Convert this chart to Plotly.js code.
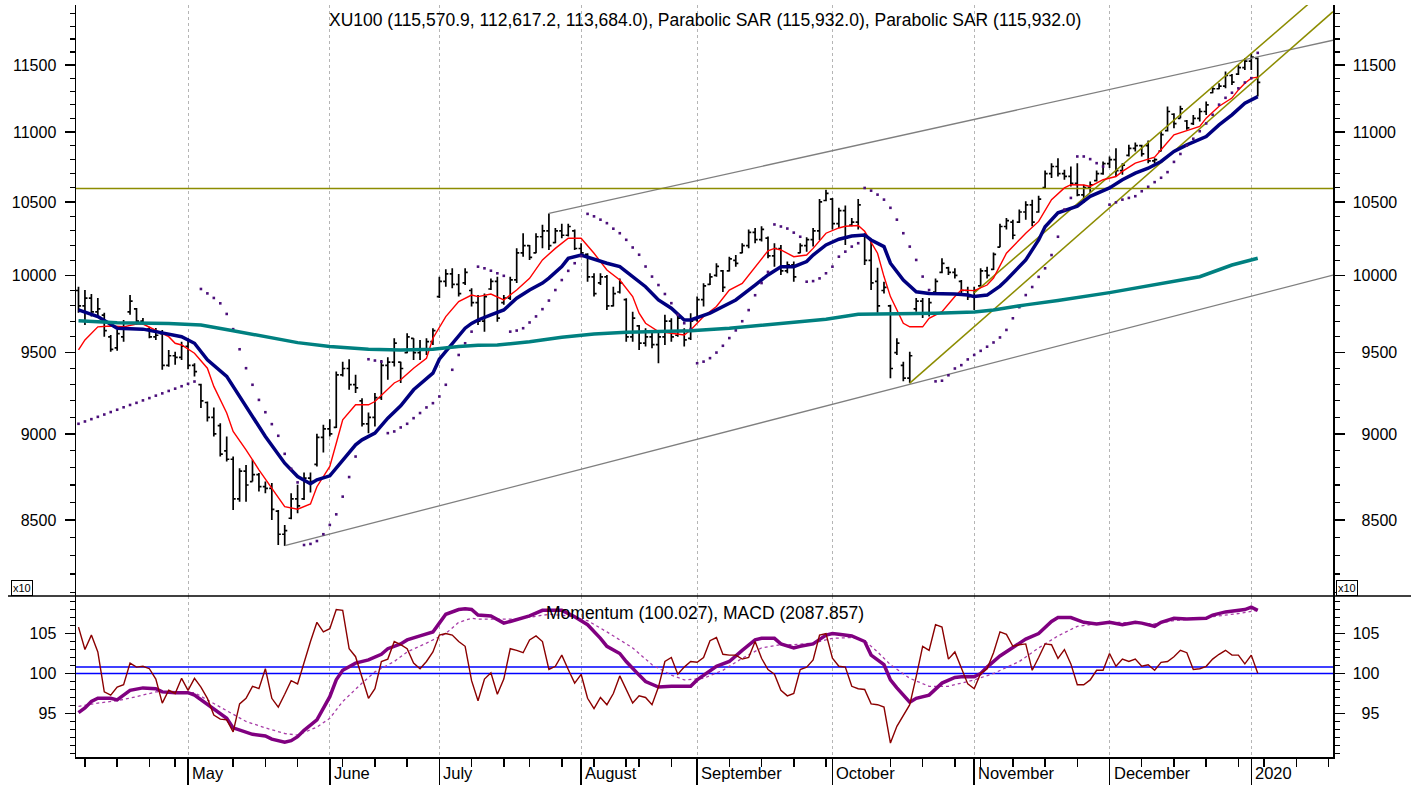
<!DOCTYPE html>
<html><head><meta charset="utf-8">
<script src="https://cdn.plot.ly/plotly-3.0.1.min.js"></script>
<style>html,body{margin:0;padding:0;background:#fff}#chart{width:1411px;height:787px}</style>
</head><body><div id="chart"></div>
<script>
// ---- DATA (trading-day index 0 = first visible bar, early April 2019) ----
const high=[9925,9903,9877,9851,9754,9612,9644,9708,9870,9786,9721,9665,9657,9644,9517,9506,9569,9591,9433,9305,
9196,9160,9065,8985,8866,8798,8817,8847,8769,8720,8711,8557,8472,8653,8701,8772,8772,9001,9055,9089,
9381,9443,9458,9361,9216,9130,9248,9454,9471,9591,9443,9623,9591,9580,9591,9655,9991,10040,10047,10009,
10047,9914,9870,9881,9980,9991,9870,9991,10181,10284,10204,10284,10342,10419,10320,10349,10349,10309,10215,10148,
10014,10014,10003,9925,9980,9849,9762,9676,9655,9644,9644,9741,9719,9741,9655,9752,9860,9947,10014,10081,
10036,10125,10136,10215,10309,10320,10332,10261,10215,10204,10092,10092,10215,10257,10320,10521,10586,10528,10459,10475,
10389,10521,10284,10227,10050,9958,9806,9591,9443,9506,9851,9851,9851,9980,10114,10058,10047,9969,9925,9925,
10047,10058,10153,10349,10389,10377,10447,10504,10516,10544,10722,10774,10810,10727,10750,10774,10621,10644,10722,10786,
10822,10882,10774,10906,10923,10906,10937,10810,11003,11187,11138,11192,11088,11125,11174,11224,11336,11362,11450,11432,
11500,11551,11590,11557];
const low=[9754,9676,9730,9721,9601,9506,9511,9569,9741,9676,9676,9591,9580,9392,9411,9423,9454,9396,9350,9156,
9075,8985,8866,8837,8557,8604,8604,8720,8662,8653,8500,8360,8355,8504,8538,8614,8657,8808,8890,8985,
9035,9350,9268,9248,9045,9005,9045,9206,9330,9413,9310,9496,9454,9454,9485,9548,9851,9925,9914,9860,
9936,9795,9676,9633,9903,9697,9806,9838,9949,10125,10103,10148,10181,10170,10215,10250,10261,10170,10125,9958,
9860,9936,9773,9795,9881,9569,9569,9517,9538,9527,9433,9548,9569,9601,9538,9580,9697,9795,9936,9991,
9890,10025,10058,10148,10181,10215,10227,10114,10058,10003,10014,9958,10148,10159,10193,10238,10504,10309,10320,10204,
10332,10309,10069,9903,9754,9881,9340,9485,9320,9309,9762,9721,9730,9884,10014,10003,9980,9884,9838,9773,
9925,9980,10036,10188,10309,10243,10354,10377,10332,10424,10598,10668,10679,10656,10609,10539,10493,10563,10644,10691,
10739,10679,10691,10822,10858,10822,10774,10774,10858,11003,11027,11100,11015,11051,11076,11125,11286,11316,11323,11349,
11424,11462,11462,11262];
const open=[9900,9800,9850,9760,9740,9600,9530,9600,9760,9780,9700,9650,9600,9620,9420,9480,9470,9540,9420,9300,
9190,9100,9050,8900,8850,8620,8780,8720,8760,8690,8680,8550,8420,8510,8620,8620,8740,8820,8980,9030,
9040,9360,9400,9300,9200,9060,9100,9220,9420,9440,9440,9500,9590,9500,9520,9570,9860,9960,10010,9940,
9950,9900,9820,9700,9910,9960,9820,9850,9970,10150,10200,10150,10260,10300,10220,10300,10270,10300,10180,10140,
9990,9950,9990,9800,9890,9840,9600,9670,9560,9600,9550,9600,9700,9610,9640,9590,9710,9840,9940,10000,
10030,10030,10100,10150,10200,10290,10240,10250,10130,10180,10030,10070,10150,10200,10240,10300,10510,10520,10350,10440,
10340,10360,10270,10100,9960,9900,9800,9500,9420,9340,9780,9830,9750,9890,10020,10050,10020,9960,9900,9860,
9930,10030,10040,10190,10330,10360,10360,10430,10480,10430,10600,10700,10750,10700,10680,10630,10550,10600,10650,10700,
10770,10800,10720,10830,10880,10900,10900,10790,10860,11010,11130,11100,11080,11060,11100,11150,11290,11320,11340,11420,
11430,11480,11530,11550];
const close=[9800,9850,9760,9780,9640,9520,9620,9690,9830,9700,9690,9600,9610,9420,9480,9470,9540,9420,9380,9200,
9100,9000,8880,8850,8620,8780,8700,8760,8690,8680,8560,8420,8440,8620,8580,8740,8720,8980,9030,9000,
9360,9400,9300,9280,9060,9100,9220,9420,9440,9560,9400,9600,9500,9520,9570,9640,9960,10010,9940,9880,
10020,9820,9700,9860,9960,9720,9850,9970,10150,10200,10120,10260,10300,10200,10300,10270,10330,10180,10150,9990,
9880,9990,9800,9880,9950,9600,9720,9560,9600,9550,9600,9700,9600,9720,9580,9700,9840,9930,9990,10060,
9920,10110,10080,10200,10290,10240,10310,10130,10180,10030,10070,9990,10200,10240,10300,10500,10560,10350,10440,10250,
10360,10480,10100,9950,9800,9920,9400,9560,9340,9480,9830,9750,9820,9960,10080,10020,10000,9900,9860,9900,
10030,10000,10140,10330,10370,10270,10430,10480,10360,10520,10700,10750,10700,10680,10630,10550,10600,10620,10700,10770,
10800,10720,10760,10880,10900,10840,10790,10800,10980,11150,11060,11170,11030,11100,11150,11200,11320,11340,11420,11370,
11480,11530,11560,11368];
const sar=[9061,9075,9089,9103,9117,9132,9146,9161,9175,9188,9203,9217,9232,9246,9261,9275,9290,9305,9319,9910,
9881,9851,9816,9747,9649,9521,9402,9299,9206,9131,9059,8989,8882,8794,8715,8360,8366,8382,8420,8472,
8532,8633,8746,8866,null,9458,9450,9443,9005,9015,9039,9061,9095,9126,9160,9186,9227,9299,9392,9485,
9559,9633,10058,10047,10031,10014,9997,9633,9640,9655,9692,9731,9778,9834,9903,9969,10030,10081,10129,10417,
10400,10377,10353,10315,10284,10239,10187,10138,10059,9992,9936,9877,9817,9741,9687,9650,9433,9443,9465,9500,
9543,9592,9641,9700,9772,9869,9949,10023,10344,10330,10316,10288,10260,9958,9962,9980,10014,10058,10125,10159,
10193,10216,10598,10579,10551,10516,10459,10377,10284,10193,10103,9992,9903,9320,9324,9358,9400,9421,9457,9485,
9511,9537,9564,9596,9644,9719,9791,9870,9923,9990,10047,10136,10260,10447,10528,10822,10822,10803,10774,10750,
10481,10497,10516,10528,10540,10575,10606,10639,10670,10710,10783,10840,10901,10950,11005,11062,11126,11201,11252,11290,
11323,11367,11400,11593];
const redIdx=[0,1,3,5,7,9,10,12,14,15,16,18,20,21,23,24,26,28,30,32,34,36,37,39,40,41,43,45,46,48,49,50,52,54,55,57,59,61,62,64,66,68,70,72,74,76,78,80,82,84,86,87,88,90,92,94,95,97,99,101,103,105,107,108,109,111,113,114,116,118,119,121,122,124,125,126,128,129,131,132,134,136,137,139,141,142,144,147,149,151,153,154,156,157,159,161,162,164,166,167,168,170,172,174,175,177,179,180,181,182,183];
const redVal=[9517,9580,9664,9669,9664,9682,9682,9644,9601,9559,9548,9496,9402,9289,9126,9015,8906,8788,8682,8576,8561,8591,8690,8808,8945,9085,9176,9176,9196,9268,9310,9330,9402,9464,9591,9730,9827,9870,9860,9877,9838,9903,9980,10103,10181,10250,10250,10148,10036,9969,9860,9752,9687,9634,9623,9612,9644,9730,9795,9903,9947,10058,10165,10181,10170,10125,10136,10181,10284,10320,10332,10337,10297,10148,9992,9860,9687,9664,9664,9719,9762,9860,9903,9899,9936,9982,10148,10284,10365,10516,10598,10621,10619,10609,10656,10679,10715,10774,10803,10817,10870,10979,11010,11040,11101,11189,11250,11311,11362,11400,11408];
const navyIdx=[0,2,3,6,9,10,12,15,16,18,20,23,25,27,29,32,34,36,37,39,41,43,44,46,48,50,52,55,56,58,60,61,62,64,66,68,70,72,73,75,76,78,80,82,84,86,88,90,92,94,95,98,100,102,105,107,109,111,113,114,116,118,120,122,123,125,126,128,130,132,136,138,139,141,143,144,147,149,150,152,155,157,160,162,164,166,168,170,172,175,177,179,181,183];
const navyVal=[9773,9747,9730,9655,9649,9649,9633,9606,9601,9559,9454,9351,9227,9105,8985,8827,8749,8707,8730,8753,8847,8935,8965,9005,9095,9170,9268,9371,9458,9559,9655,9686,9708,9741,9773,9849,9903,9949,9982,10058,10114,10136,10107,10081,10058,9992,9925,9838,9784,9708,9708,9752,9795,9838,9936,10003,10058,10058,10092,10136,10204,10243,10265,10272,10238,10193,10081,9969,9892,9881,9877,9870,9860,9870,9929,9969,10103,10238,10328,10425,10471,10539,10598,10656,10703,10738,10786,10858,10906,10966,11051,11125,11212,11261];
const tealIdx=[0,6,14,19,24,29,34,39,45,50,55,59,62,65,70,75,80,85,90,95,101,106,111,116,121,126,133,139,142,147,152,160,166,171,174,179,183];
const tealVal=[9703,9690,9686,9676,9639,9601,9563,9538,9521,9517,9521,9538,9546,9548,9569,9597,9618,9629,9633,9638,9655,9676,9693,9713,9745,9747,9752,9760,9773,9806,9834,9886,9930,9969,9991,10069,10114];
// trend lines: [startIdx, startPrice, endIdx, endPrice]
const grayLines=[[32,8356,194.68,10002],[73,10421,194.68,11691]];
const oliveLines=[[-0.388,10595,194.68,10595],[129,9309,194.68,11915],[139,9884,194.68,12146]];
const momentum=[105.8,103.0,104.8,102.7,97.7,97.3,98.3,98.6,101.3,100.8,100.9,100.6,99.3,96.3,97.9,97.5,99.4,97.9,99.4,98.3,
96.9,94.8,94.3,94.2,92.7,96.2,96.9,98.4,98.1,100.6,96.9,95.8,97.4,99.1,98.7,101.5,104.0,106.4,105.2,105.6,
108.0,107.9,103.1,102.1,99.5,96.9,98.1,101.5,101.8,104.0,103.6,103.1,101.3,100.6,101.5,102.7,104.8,105.0,104.8,104.0,
103.4,99.1,96.6,99.3,100.1,97.4,99.3,103.1,102.9,102.6,104.2,104.7,104.0,100.5,100.9,102.3,100.5,98.8,99.9,96.9,
95.6,97.0,96.1,97.5,99.7,97.9,96.3,97.2,97.0,96.1,98.3,101.5,102.0,99.9,100.8,101.5,101.4,102.0,104.1,104.5,
102.4,102.3,102.3,101.8,102.0,104.0,101.9,100.5,99.9,97.9,97.2,97.5,100.5,100.8,101.7,104.8,105.0,101.9,100.9,100.8,
98.4,98.1,98.0,96.2,96.1,95.8,91.3,93.4,94.7,96.1,99.6,103.4,102.9,106.1,105.8,101.8,102.7,100.8,98.7,98.1,
100.0,100.6,102.6,105.2,104.9,103.4,103.6,103.7,100.4,102.0,103.7,103.6,101.9,103.0,101.2,98.6,98.6,99.2,100.4,100.4,
102.5,100.9,101.8,101.5,101.8,100.9,101.1,100.4,101.4,101.5,102.1,102.9,102.6,100.5,100.6,100.9,101.8,102.4,102.9,102.3,
102.3,101.2,102.3,100.03];
const macdIdx=[0,1,2,3,5,6,8,10,12,13,15,17,18,19,21,23,24,26,27,29,30,32,33,34,35,37,38,39,40,41,43,44,45,47,48,50,51,53,55,56,57,59,60,61,62,64,66,67,70,72,75,77,79,81,82,84,85,87,88,90,92,95,96,99,101,103,105,106,108,109,111,112,114,116,117,118,120,122,123,125,126,127,129,130,132,134,136,137,139,140,141,143,145,147,149,151,152,154,156,158,160,162,164,165,167,168,170,172,175,176,178,180,181,182,183];
const macdVal=[95.1,95.7,96.5,96.9,96.9,96.7,97.9,98.2,98.1,97.7,97.6,97.6,97.3,96.7,95.6,94.4,93.2,92.7,92.4,92.2,91.8,91.4,91.6,92.1,92.9,94.2,95.6,97.1,99.2,100.4,101.3,101.5,101.7,102.4,103.1,103.7,104.2,104.7,105.2,106.3,107.4,108.0,108.1,108.0,107.3,107.2,106.3,106.5,107.2,107.9,107.9,107.1,106.1,104.4,103.4,102.5,101.5,99.8,99.0,98.3,98.4,98.4,99.2,100.9,101.5,102.9,104.2,104.4,104.4,103.7,103.2,103.4,103.7,104.8,105.0,104.9,104.7,104.0,102.3,101.1,99.2,98.2,96.4,96.9,97.3,98.8,99.5,99.6,99.6,100.0,100.8,102.2,103.2,104.3,105.0,106.5,107.0,107.0,106.4,106.2,106.4,106.1,106.4,106.3,105.9,106.4,106.9,106.8,106.9,107.3,107.7,107.9,108.0,108.3,107.9];
const sigIdx=[0,3,6,9,12,15,18,20,23,26,29,32,34,37,39,41,44,46,49,51,54,57,59,61,62,65,68,73,76,79,82,86,89,92,94,97,100,103,106,109,111,114,117,120,122,124,126,129,132,135,139,142,146,149,152,155,158,161,164,167,170,173,176,180,183];
const sigVal=[95.9,96.3,96.6,97.1,97.7,97.7,97.6,96.7,95.4,94.0,93.2,92.5,92.3,93.3,94.4,96.5,98.8,100.2,101.5,102.7,103.8,105.0,106.4,106.9,106.8,106.8,106.8,107.4,107.2,106.6,105.2,103.2,101.1,99.8,99.2,99.4,100.4,101.9,103.2,103.6,103.6,103.8,104.4,104.5,104.1,102.7,101.1,99.4,98.4,98.4,99.2,100.0,101.5,103.2,104.7,105.9,106.2,106.4,106.3,106.2,106.6,106.8,107.1,107.5,107.9];
const levels=[100,100.8];
const monthTicks=[17,39,56,78,96,117,139,160,182];
const monthLabels=['ril','May','June','July','August','September','October','November','December','2020'];
const monthLabelPos=[-0.54,17,39,56,78,96,117,139,160,182];
const weekTicks=[1,6,11,15,24,29,34,41,46,51,61,66,70,75,80,85,87,92,101,106,111,116,126,131,136,140,145,150,155,165,170,175,180,184,189,194];
const priceTicks=[8500,9000,9500,10000,10500,11000,11500];
const momTicks=[95,100,105];
const mainTitle='XU100 (115,570.9, 112,617.2, 113,684.0), Parabolic SAR (115,932.0), Parabolic SAR (115,932.0)';
const lowerTitle='Momentum (100.027), MACD (2087.857)';

// ---- CHART ----
const FONT='Liberation Sans, Arial, sans-serif';
const idx=high.map((_,i)=>i);
const split=(757-596)/752;
const xr=[-0.388,194.68];
const priceMinor=[];for(let v=8100;v<=11900;v+=100)priceMinor.push(v);
const momMinor=[];for(let v=90;v<=109;v++)momMinor.push(v);
const FS='\u2007';

const traces=[];
traces.push({type:'ohlc',x:idx,open:open,high:high,low:low,close:close,xaxis:'x',yaxis:'y',
  increasing:{line:{color:'#000',width:1.7}},decreasing:{line:{color:'#000',width:1.7}},tickwidth:0.4,hoverinfo:'skip'});
grayLines.forEach(l=>traces.push({type:'scatter',mode:'lines',x:[l[0],l[2]],y:[l[1],l[3]],xaxis:'x',yaxis:'y',line:{color:'#7f7f7f',width:1.3},hoverinfo:'skip'}));
oliveLines.forEach(l=>traces.push({type:'scatter',mode:'lines',x:[l[0],l[2]],y:[l[1],l[3]],xaxis:'x',yaxis:'y',line:{color:'#8c8c00',width:1.5},hoverinfo:'skip'}));
traces.push({type:'scatter',mode:'lines',x:redIdx,y:redVal,xaxis:'x',yaxis:'y',line:{color:'#ff0000',width:1.4},hoverinfo:'skip'});
traces.push({type:'scatter',mode:'lines',x:navyIdx,y:navyVal,xaxis:'x',yaxis:'y',line:{color:'#000080',width:3.5},hoverinfo:'skip'});
traces.push({type:'scatter',mode:'markers',x:idx,y:sar,xaxis:'x',yaxis:'y',marker:{symbol:'square',size:2.6,color:'#4b0f7a'},hoverinfo:'skip'});
traces.push({type:'scatter',mode:'lines',x:tealIdx,y:tealVal,xaxis:'x',yaxis:'y3',line:{color:'#008080',width:3.5},hoverinfo:'skip'});
traces.push({type:'scatter',mode:'lines',x:sigIdx,y:sigVal,xaxis:'x2',yaxis:'y2',line:{color:'#a83ca8',width:1.3,dash:'dot'},hoverinfo:'skip'});
traces.push({type:'scatter',mode:'lines',x:macdIdx,y:macdVal,xaxis:'x2',yaxis:'y2',line:{color:'#800080',width:3.5},hoverinfo:'skip'});
traces.push({type:'scatter',mode:'lines',x:idx,y:momentum,xaxis:'x2',yaxis:'y4',line:{color:'#8b0000',width:1.4},hoverinfo:'skip'});

const axLine={showline:true,linecolor:'#000',linewidth:1.5,zeroline:false,showgrid:false};
const yMain={type:'log',range:[3.90749,4.07801],tickmode:'array',tickvals:priceTicks,ticks:'outside',ticklen:10,tickwidth:1.2,tickcolor:'#000',
  tickfont:{family:FONT,size:16,color:'#000'},ticklabelstandoff:5,
  minor:{tickmode:'array',tickvals:priceMinor,ticks:'outside',ticklen:5,tickwidth:1.2,tickcolor:'#000',showgrid:false}};
const yLow={range:[89.56,109.69],tickmode:'array',tickvals:momTicks,ticks:'outside',ticklen:10,tickwidth:1.2,tickcolor:'#000',
  tickfont:{family:FONT,size:16,color:'#000'},ticklabelstandoff:5,
  minor:{tickmode:'array',tickvals:momMinor,ticks:'outside',ticklen:5,tickwidth:1.2,tickcolor:'#000',showgrid:false}};

const annotations=[
  {xref:'paper',yref:'paper',x:0.5,y:(757-20)/752,text:mainTitle,showarrow:false,xanchor:'center',yanchor:'middle',font:{family:FONT,size:17.5,color:'#000'}},
  {xref:'paper',yref:'paper',x:0.5,y:(757-613)/752,text:lowerTitle,showarrow:false,xanchor:'center',yanchor:'middle',font:{family:FONT,size:17.5,color:'#000'}},
  {xref:'paper',yref:'paper',x:(21.5-76)/1257,y:(757-588)/752,text:'x10',showarrow:false,xanchor:'center',yanchor:'middle',font:{family:FONT,size:11,color:'#000'},bordercolor:'#000',borderwidth:1,borderpad:1,bgcolor:'#fff'},
  {xref:'paper',yref:'paper',x:(1347-76)/1257,y:(757-588)/752,text:'x10',showarrow:false,xanchor:'center',yanchor:'middle',font:{family:FONT,size:11,color:'#000'},bordercolor:'#000',borderwidth:1,borderpad:1,bgcolor:'#fff'}
];
monthLabels.forEach((t,k)=>annotations.push({xref:'x2',yref:'paper',x:monthLabelPos[k],y:0,yshift:-16,xshift:2,text:t,showarrow:false,xanchor:'left',yanchor:'middle',font:{family:FONT,size:16.5,color:'#000'}}));

const shapes=[
  {type:'line',xref:'paper',yref:'paper',x0:(8-76)/1257,x1:(1411-76)/1257,y0:split,y1:split,line:{color:'#000',width:1.5}}
];
levels.forEach(v=>shapes.push({type:'line',xref:'paper',yref:'y2',x0:0,x1:1,y0:v,y1:v,line:{color:'#0000ff',width:1.5},layer:'below'}));

const layout={
  width:1411,height:787,margin:{l:76,r:78,t:5,b:30},paper_bgcolor:'#fff',plot_bgcolor:'#fff',
  showlegend:false,hovermode:false,font:{family:FONT,size:16,color:'#000'},
  xaxis:{domain:[0,1],anchor:'y',range:xr,rangeslider:{visible:false},tickmode:'array',tickvals:monthTicks,showticklabels:false,ticks:'',
    showgrid:true,gridcolor:'#b5b5b5',griddash:'dot',gridwidth:1,zeroline:false,showline:false},
  xaxis2:{domain:[0,1],anchor:'y2',range:xr,tickmode:'array',tickvals:monthTicks,showticklabels:false,ticks:'outside',ticklen:26,tickwidth:1.5,tickcolor:'#000',
    showgrid:true,gridcolor:'#b5b5b5',griddash:'dot',gridwidth:1,zeroline:false,showline:true,linecolor:'#000',linewidth:1.5,
    minor:{tickmode:'array',tickvals:weekTicks,ticks:'outside',ticklen:8,tickwidth:1.5,tickcolor:'#000',showgrid:false}},
  yaxis:Object.assign({domain:[split,1],anchor:'x',side:'left',ticktext:priceTicks.map(String)},axLine,yMain),
  yaxis3:Object.assign({overlaying:'y',anchor:'x',side:'right',ticktext:priceTicks.map(v=>v<10000?FS+v:String(v))},axLine,yMain),
  yaxis2:Object.assign({domain:[0,split],anchor:'x2',side:'left',ticktext:momTicks.map(String)},axLine,yLow),
  yaxis4:Object.assign({overlaying:'y2',anchor:'x2',side:'right',ticktext:momTicks.map(v=>v<100?FS+v:String(v))},axLine,yLow),
  annotations:annotations,shapes:shapes
};
Plotly.newPlot('chart',traces,layout,{staticPlot:true,displayModeBar:false});
</script></body></html>
